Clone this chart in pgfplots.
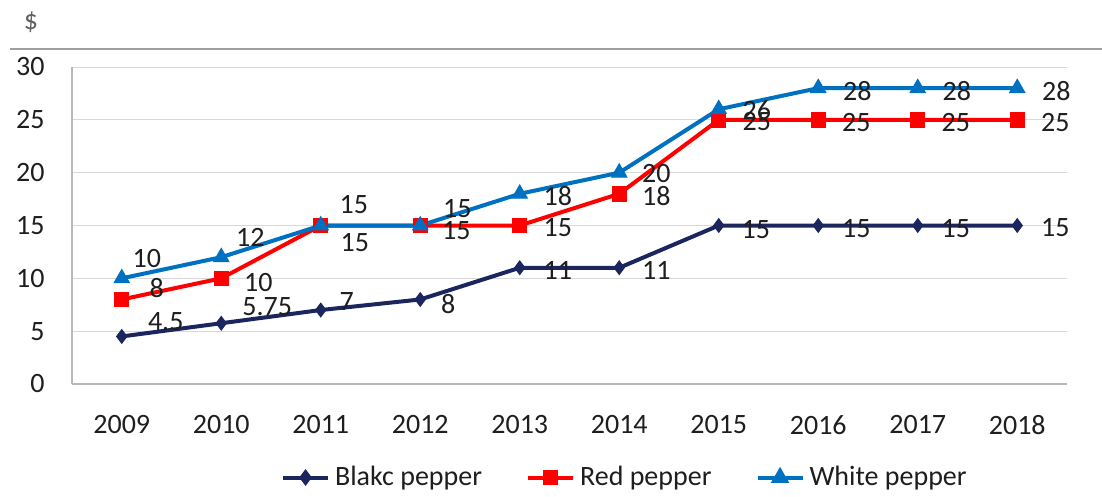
\documentclass[border=0pt]{standalone}
\usepackage{pgfplots}
\pgfplotsset{compat=1.18}
\usepackage{pgfplotstable}
\usepackage{fontspec}
\setmainfont{Carlito}
\definecolor{cblack}{RGB}{27,38,94}
\definecolor{cred}{RGB}{255,0,0}
\definecolor{cwhite}{RGB}{0,112,192}
\definecolor{txt}{RGB}{30,30,30}

\pgfplotstableread{
x y lab dx dy
0 4.5 4.5 22 7.25
1 5.75 5.75 23 8.5
2 7 7 13 4.5
3 8 8 14 -2.5
4 11 11 19 -1.5
5 11 11 18.5 -1.5
6 15 15 18.5 -2
7 15 15 19 -1.5
8 15 15 19 -1.5
9 15 15 19 -1.25
}\blackdata

\pgfplotstableread{
x y lab dx dy
0 8 8 17.5 5.5
1 10 10 18.5 -2
2 15 15 17 -8.5
3 15 15 18 -2.5
4 15 15 19 -1
5 18 18 18.5 -1
6 25 25 19 -1
7 25 25 19 -1.5
8 25 25 19 -1.5
9 25 25 19 -1.5
}\reddata

\pgfplotstableread{
x y lab dx dy
0 10 10 12.5 10
1 12 12 14.5 10
2 15 15 16.5 10.5
3 15 15 18.5 8.5
4 18 18 19 -1
5 20 20 18.5 -0.5
6 26 26 19 -0.5
7 28 28 19.5 -1.5
8 28 28 19.5 -1.5
9 28 28 19.5 -1.5
}\whitedata

\begin{document}
\begin{tikzpicture}
\useasboundingbox (0,0) rectangle (551bp,248.5bp);
\draw[draw=gray!75, line width=0.8bp] (5bp,224bp) -- (551bp,224bp);
\node[text=gray!75!black, font=\fontsize{14bp}{16bp}\selectfont] at (15.5bp,237.5bp) {\$};
\begin{axis}[
  at={(36bp,56.5bp)}, anchor=south west,
  scale only axis, width=497.5bp, height=158.5bp,
  xmin=-0.5, xmax=9.5, ymin=0, ymax=30,
  xtick={0,...,9},
  xticklabels={2009,2010,2011,2012,2013,2014,2015,2016,2017,2018},
  ytick={0,5,...,30},
  ymajorgrids,
  major grid style={draw=gray!30, line width=0.5bp},
  axis x line*=bottom, axis y line*=left,
  axis line style={draw=gray!55, line width=0.6bp, -},
  tick style={draw=none},
  /pgf/number format/assume math mode=true,
  tick label style={font=\fontsize{14bp}{16bp}\selectfont, text=txt},
  xticklabel style={anchor=center, inner sep=0pt, yshift=-20.5bp},
  yticklabel style={anchor=east, inner sep=0pt, xshift=-13.5bp},
  clip=false,
  legend columns=3,
  legend style={draw=none, fill=none, at={(0.2097,-0.295)}, anchor=west,
    inner sep=0pt, font=\fontsize{14bp}{16bp}\selectfont, text=txt,
    /tikz/every odd column/.append style={column sep=2.5bp},
    /tikz/every even column/.append style={column sep=22bp},
    nodes={inner sep=0pt}},
  legend image code/.code={\draw[mark repeat=2,mark phase=2,#1,mark options={scale=0.75}] plot coordinates {(0bp,0bp) (11.25bp,0bp) (22.5bp,0bp)};},
  every node near coord/.append style={font=\fontsize{14bp}{16bp}\selectfont, text=txt, anchor=center},
]
\addplot[cblack, line width=2bp, mark=diamond*, mark size=3.4bp, mark options={solid, line width=0.5bp}] table[x=x,y=y] {\blackdata};
\addlegendentry{Blakc pepper}
\addplot[cred, line width=2bp, mark=square*, mark size=3.6bp, mark options={solid, line width=0.5bp}] table[x=x,y=y] {\reddata};
\addlegendentry{Red pepper}
\addplot[cwhite, line width=2bp, mark=triangle*, mark size=4.4bp, mark options={solid, line width=0.5bp}] table[x=x,y=y] {\whitedata};
\addlegendentry{White pepper}

\addplot[draw=none, mark=none, forget plot, nodes near coords, point meta=explicit symbolic,
  visualization depends on={\thisrow{dx}\as\dx}, visualization depends on={\thisrow{dy}\as\dy},
  nodes near coords style={xshift=\dx bp, yshift=\dy bp}]
  table[x=x,y=y,meta=lab] {\blackdata};
\addplot[draw=none, mark=none, forget plot, nodes near coords, point meta=explicit symbolic,
  visualization depends on={\thisrow{dx}\as\dx}, visualization depends on={\thisrow{dy}\as\dy},
  nodes near coords style={xshift=\dx bp, yshift=\dy bp}]
  table[x=x,y=y,meta=lab] {\reddata};
\addplot[draw=none, mark=none, forget plot, nodes near coords, point meta=explicit symbolic,
  visualization depends on={\thisrow{dx}\as\dx}, visualization depends on={\thisrow{dy}\as\dy},
  nodes near coords style={xshift=\dx bp, yshift=\dy bp}]
  table[x=x,y=y,meta=lab] {\whitedata};
\end{axis}
\end{tikzpicture}
\end{document}
